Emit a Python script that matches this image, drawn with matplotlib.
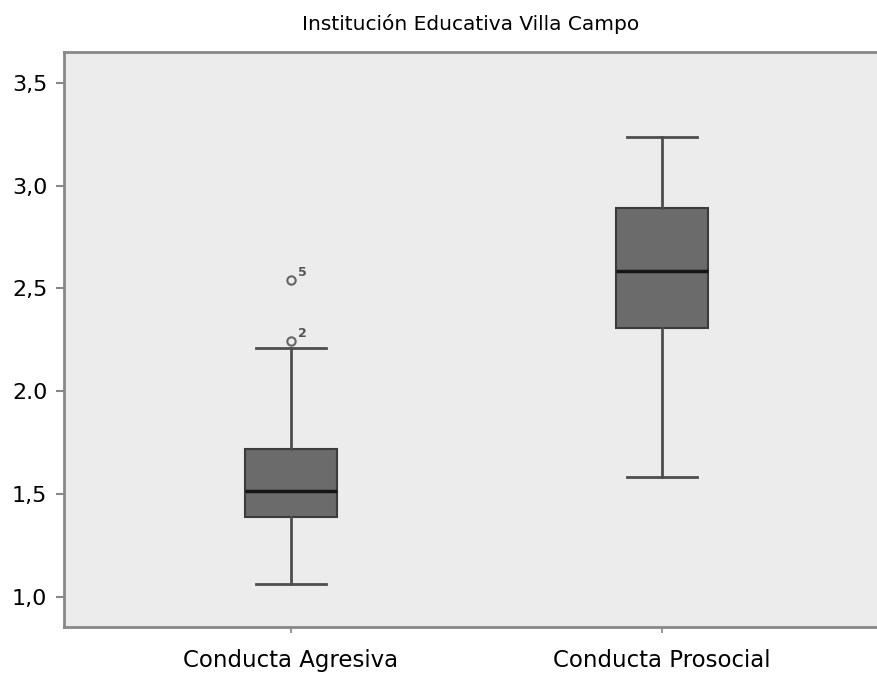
import matplotlib
matplotlib.use("Agg")
import matplotlib.pyplot as plt

# datos
grupos = ["Conducta Agresiva", "Conducta Prosocial"]
q1 = [1.39, 2.31]
mediana = [1.515, 2.585]
q3 = [1.72, 2.89]
bigote_inf = [1.063, 1.585]
bigote_sup = [2.21, 3.237]
atipicos = [[2.245, 2.54], []]
atipicos_id = [["2", "5"], []]

yticks = [1.0, 1.5, 2.0, 2.5, 3.0, 3.5]
yticklabels = ["1,0", "1,5", "2.0", "2,5", "3,0", "3,5"]

stats = []
for i in range(len(grupos)):
    stats.append({"label": grupos[i], "q1": q1[i], "med": mediana[i], "q3": q3[i],
                  "whislo": bigote_inf[i], "whishi": bigote_sup[i], "fliers": atipicos[i]})

fig = plt.figure(figsize=(8.78, 6.79), dpi=100)
ax = fig.add_axes([64 / 878, 1 - 627 / 679, 1 - 64 / 878, (627 - 52) / 679])
ax.set_facecolor("#ececec")

ax.bxp(stats, positions=[1, 2], widths=0.25, patch_artist=True,
       boxprops=dict(facecolor="#6b6b6b", edgecolor="#3c3c3c", linewidth=1.5),
       medianprops=dict(color="#151515", linewidth=2.5),
       whiskerprops=dict(color="#4e4e4e", linewidth=2),
       capprops=dict(color="#4e4e4e", linewidth=2),
       capwidths=0.19,
       flierprops=dict(marker="o", markersize=6, markerfacecolor="none",
                       markeredgecolor="#666666", markeredgewidth=1.5))

for i in range(len(grupos)):
    for v, t in zip(atipicos[i], atipicos_id[i]):
        ax.annotate(t, (i + 1, v), xytext=(5, 3), textcoords="offset points",
                    fontsize=9, color="#555555", fontweight="bold")

ax.set_xlim(0.388, 2.582)
ax.set_ylim(0.854, 3.65)
ax.set_yticks(yticks)
ax.set_yticklabels(yticklabels)
ax.tick_params(axis="y", labelsize=16, length=6, width=1.5, color="#888888", pad=6)
ax.tick_params(axis="x", labelsize=16.5, length=4, width=1.5, color="#999999", pad=12)
for s in ax.spines.values():
    s.set_color("#888888")
    s.set_linewidth(2)
ax.set_title("Institución Educativa Villa Campo", fontsize=14.5, pad=16)

fig.savefig("out.png", dpi=100)
